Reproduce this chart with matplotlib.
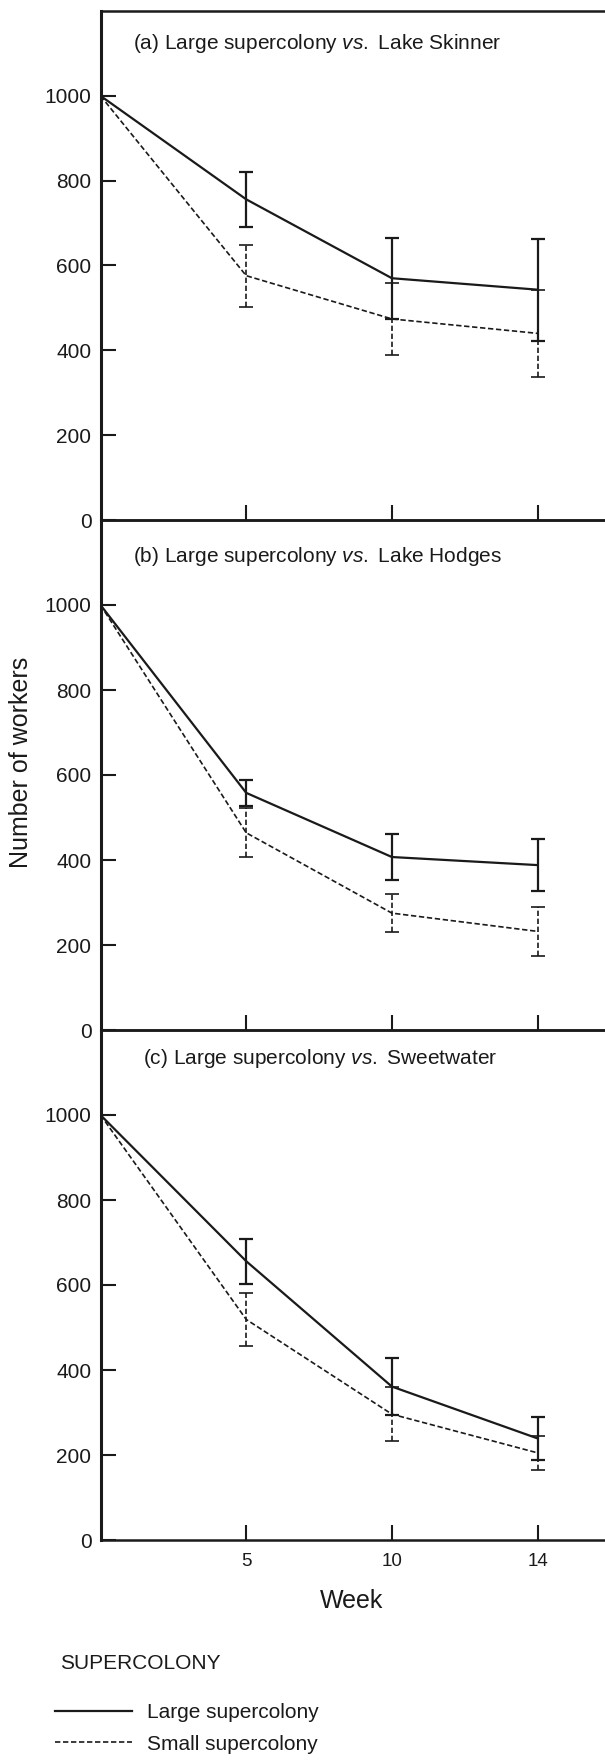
import numpy as np
import matplotlib
matplotlib.use("Agg")
import matplotlib.pyplot as plt
from matplotlib.lines import Line2D

plt.rcParams.update({"font.family": ["Liberation Sans", "DejaVu Sans"],
                     "mathtext.fontset": "custom",
                     "mathtext.rm": "Liberation Sans",
                     "mathtext.it": "Liberation Sans:italic"})

INK = "#1a1a1a"

# ---- data ----
weeks = [0, 5, 10, 14]
week_labels = ["5", "10", "14"]
panel_titles = ["(a) Large supercolony $\\mathit{vs.}$ Lake Skinner",
                "(b) Large supercolony $\\mathit{vs.}$ Lake Hodges",
                "(c) Large supercolony $\\mathit{vs.}$ Sweetwater"]

large_a = [1000, 756, 570, 543]
large_a_err = [0, 65, 95, 120]
small_a = [1000, 576, 474, 440]
small_a_err = [0, 73, 85, 103]

large_b = [1000, 558, 407, 388]
large_b_err = [0, 30, 55, 61]
small_b = [1000, 464, 275, 232]
small_b_err = [0, 58, 45, 57]

large_c = [1000, 656, 361, 239]
large_c_err = [0, 53, 67, 50]
small_c = [1000, 519, 296, 205]
small_c_err = [0, 63, 63, 40]

panels = [(large_a, large_a_err, small_a, small_a_err),
          (large_b, large_b_err, small_b, small_b_err),
          (large_c, large_c_err, small_c, small_c_err)]

# layout in pixels of a 605x1760 canvas
W, H = 605, 1760
x0 = 100.5
step = 145.7
tops = [11, 520, 1030]
bottoms = [520, 1030, 1540]
title_x = [0.223, 0.223, 0.295]
title_y = [1124, 1113, 1132]

fig = plt.figure(figsize=(W / 100, H / 100), dpi=100)
pos = np.arange(len(weeks))
dash = (0, (3.2, 1.6))

for i, (lg, lge, sm, sme) in enumerate(panels):
    ax = fig.add_axes([x0 / W, 1 - bottoms[i] / H, 3.5 * step / W, (bottoms[i] - tops[i]) / H])
    # large supercolony: solid
    ax.plot(pos, lg, color=INK, lw=1.6, solid_joinstyle="miter")
    ax.errorbar(pos, lg, yerr=lge, errorevery=(1, 1), fmt="none",
                ecolor=INK, elinewidth=1.6, capsize=5, capthick=1.6)
    # small supercolony: dashed
    ax.plot(pos, sm, color=INK, lw=1.2, ls=dash)
    eb2 = ax.errorbar(pos, sm, yerr=sme, errorevery=(1, 1), fmt="none",
                      ecolor=INK, elinewidth=1.2, capsize=5, capthick=1.2)
    eb2.lines[2][0].set_linestyle(dash)

    ax.set_xlim(0, 3.5)
    ax.set_ylim(0, 1200)
    ax.set_yticks(range(0, 1001, 200))
    ax.set_xticks(pos[1:])
    if i == 2:
        ax.set_xticklabels(week_labels, fontsize=13.5)
    else:
        ax.set_xticklabels([])
    ax.tick_params(axis="y", direction="in", length=11, width=1.5, pad=6.5,
                   labelsize=15, colors=INK)
    ax.tick_params(axis="x", direction="in", length=11, width=1.5, pad=9,
                   colors=INK)
    ax.spines["right"].set_visible(False)
    ax.spines["left"].set_linewidth(2.2)
    ax.spines["bottom"].set_linewidth(1.8)
    ax.spines["top"].set_linewidth(1.8)
    for s in ax.spines.values():
        s.set_color(INK)
    ax.patch.set_alpha(0)
    ax.text(title_x[i], title_y[i], panel_titles[i], fontsize=15, color=INK,
            ha="left", va="center")

fig.text(21 / W, 1 - 762 / H, "Number of workers", rotation=90, fontsize=18,
         color=INK, ha="center", va="center")
fig.text(352 / W, 1 - 1601 / H, "Week", fontsize=18, color=INK,
         ha="center", va="center")

fig.text(60 / W, 1 - 1663 / H, "SUPERCOLONY", fontsize=15, color=INK,
         ha="left", va="center")
handles = [Line2D([], [], color=INK, lw=1.6),
           Line2D([], [], color=INK, lw=1.2, ls=dash)]
fig.legend(handles, ["Large supercolony", "Small supercolony"],
           loc="upper left", bbox_to_anchor=(55 / W, 1 - 1703 / H),
           frameon=False, fontsize=15, borderpad=0, borderaxespad=0,
           handlelength=3.7, handletextpad=0.7, labelspacing=0.6,
           labelcolor=INK)

fig.savefig("out.png", dpi=100)
